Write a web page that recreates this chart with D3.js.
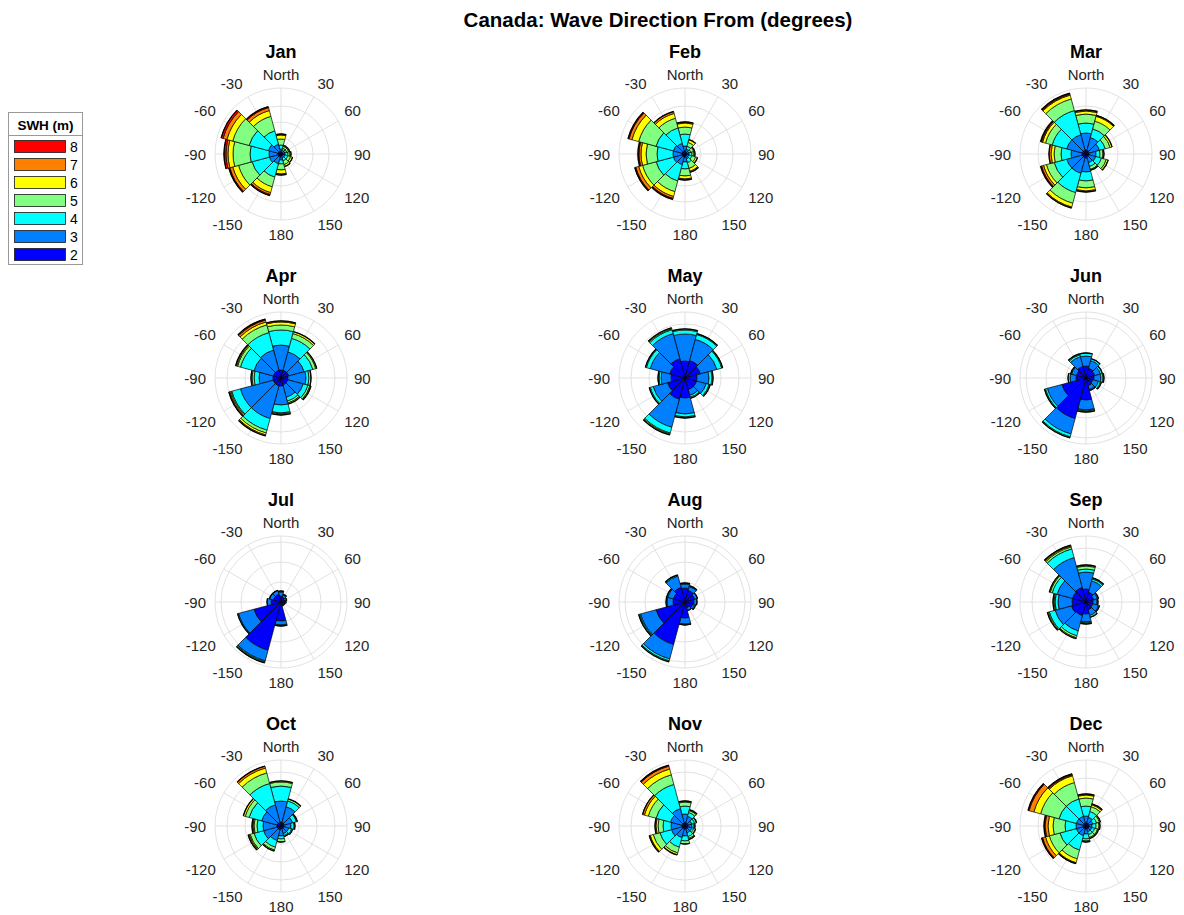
<!DOCTYPE html>
<html>
<head>
<meta charset="utf-8">
<script src="https://cdn.jsdelivr.net/npm/d3@7"></script>
<style>
  body { margin: 0; background: #ffffff; }
  svg { display: block; font-family: "Liberation Sans", Arial, Helvetica, sans-serif; }
</style>
</head>
<body>
<svg id="chart" width="1184" height="915"></svg>
<script>
// ---- Data -------------------------------------------------------------
const chartTitle = "Canada: Wave Direction From (degrees)";
const months = ["Jan", "Feb", "Mar", "Apr", "May", "Jun", "Jul", "Aug", "Sep", "Oct", "Nov", "Dec"];

// Direction bins (degrees clockwise from North), 30 degrees wide
const directions = [0, 30, 60, 90, 120, 150, 180, 210, 240, 270, 300, 330];
const directionLabels = ["North", "30", "60", "90", "120", "150", "180", "-150", "-120", "-90", "-60", "-30"];

// Significant wave height classes (m) and their colours
const swhClasses = ["2", "3", "4", "5", "6", "7", "8"];
const swhColors = ["#0000ff", "#0080ff", "#00ffff", "#80ff80", "#ffff00", "#ff8000", "#ff0000"];

// Radial axis: frequency (%) limit and ring positions per month
const radialMax = 33;
const radialTicks = [
  [8, 16, 24], [8, 16, 24], [8, 16, 24],
  [9, 18, 27], [9, 18, 27], [10, 20, 30],
  [10, 20, 30], [10, 20, 30], [9, 18, 27],
  [9, 18, 27], [9, 18, 27], [8, 16, 24]
];

// Cumulative frequency (%) per direction bin, by SWH class <=2, <=3, ... <=8
const jan = [
  [1, 2.5, 4.5, 7.5, 9.5, 10, 10],
  [1, 2, 3, 4, 4.5, 4.5, 4.5],
  [1, 2, 3, 4, 4.5, 4.5, 4.5],
  [1, 2, 3.5, 4.5, 5, 5, 5],
  [1, 2, 3.5, 5, 6, 6, 6],
  [1, 2, 3.5, 5.5, 6.5, 6.5, 6.5],
  [1, 3, 5, 8, 10, 10.5, 10.5],
  [1.5, 5, 12, 17, 20, 21, 21.5],
  [1.5, 6, 15, 22, 25, 26.5, 27],
  [1.5, 6, 15.5, 24, 26.5, 27.5, 28.5],
  [1.5, 6.5, 16.5, 25, 28, 30, 31],
  [1.5, 5, 12, 19.5, 22.5, 24, 24.5]
];
const feb = [
  [1.5, 4, 10, 13.5, 15.5, 16, 16],
  [1, 2.5, 4, 6, 7.5, 7.5, 7.5],
  [1, 2, 3, 4.5, 5, 5, 5],
  [1, 2, 3.5, 4.5, 5, 5, 5],
  [1, 2, 3.5, 5.5, 6.5, 6.5, 6.5],
  [1, 2.5, 4.5, 7.5, 9, 9.5, 9.5],
  [1.5, 4, 7.5, 11, 12.5, 13, 13],
  [1.5, 5.5, 14, 19.5, 22, 23, 23.5],
  [1.5, 6, 15, 22, 24, 25.5, 26],
  [1.5, 6, 14, 19.5, 22, 23, 23.5],
  [1.5, 6, 15, 24, 27.5, 29, 29.5],
  [1.5, 5.5, 13.5, 18.5, 21, 22, 22]
];
const mar = [
  [2, 10.5, 15.5, 20, 21.5, 22, 22],
  [2, 8.5, 13, 17, 19.5, 20, 20],
  [1.5, 7, 10, 12.5, 13.5, 13.5, 13.5],
  [1.5, 5, 7, 8.5, 9, 9, 9],
  [1.5, 5, 8, 10.5, 11.5, 11.5, 11.5],
  [1.5, 4.5, 6.5, 8, 8.5, 8.5, 8.5],
  [2, 9, 13.5, 17, 18.5, 19, 19],
  [2, 10, 20, 25.5, 27.5, 28, 28],
  [2, 10, 16.5, 20.5, 22, 23, 23.5],
  [2, 7.5, 12.5, 16, 17.5, 18.5, 18.5],
  [2, 10, 17.5, 21, 22.5, 23, 23.5],
  [2, 10, 22.5, 28.5, 30.5, 31, 31.5]
];
const apr = [
  [4, 16.5, 24, 26.5, 28, 28.5, 28.5],
  [4, 13.5, 20.5, 23, 24, 24, 24],
  [4, 12, 16.5, 18, 18.5, 18.5, 18.5],
  [3.5, 12.5, 14, 15, 15, 15, 15],
  [3.5, 11.5, 14, 15, 15.5, 15.5, 15.5],
  [3.5, 10, 12, 13, 13.5, 13.5, 13.5],
  [4, 13.5, 17.5, 18, 18.5, 18.5, 18.5],
  [4, 21, 27, 28.5, 29.5, 30, 30],
  [4, 21, 25.5, 26, 26.5, 27, 27],
  [4, 11, 13.5, 14.5, 15, 15, 15],
  [4, 14, 21, 22.5, 23, 23.5, 23.5],
  [4, 14.5, 23.5, 27.5, 29, 30, 30.5]
];
const may = [
  [8.5, 22, 24, 24.5, 24.5, 24.5, 24.5],
  [9, 20, 22.5, 23, 23, 23, 23],
  [8, 16.5, 19, 19.5, 19.5, 19.5, 19.5],
  [6, 12, 13.5, 14, 14, 14, 14],
  [6, 11, 12.5, 13, 13, 13, 13],
  [6, 9, 10, 10.5, 10.5, 10.5, 10.5],
  [10, 18, 19.5, 20, 20, 20, 20],
  [11, 25.5, 28.5, 29, 29.5, 29.5, 29.5],
  [9, 16.5, 18, 18.5, 18.5, 18.5, 18.5],
  [7, 12, 13, 13.5, 13.5, 13.5, 13.5],
  [8, 18, 20, 20.5, 20.5, 20.5, 20.5],
  [10, 23, 25, 25.5, 26, 26, 26]
];
const jun = [
  [6, 11, 12.5, 12.5, 12.5, 12.5, 12.5],
  [5, 9, 10, 10, 10, 10, 10],
  [4.5, 7.5, 8.5, 8.5, 8.5, 8.5, 8.5],
  [4, 7.5, 8.5, 9, 9, 9, 9],
  [3.5, 6.5, 7.5, 8, 8, 8, 8],
  [4, 6, 6.5, 6.5, 6.5, 6.5, 6.5],
  [11, 16, 16.5, 17, 17, 17, 17],
  [21, 29, 30.5, 31, 31, 31, 31],
  [12.5, 20, 21, 21.5, 21.5, 21.5, 21.5],
  [5, 8, 9, 9, 9, 9, 9],
  [5, 7.5, 8, 8, 8, 8, 8],
  [6, 11, 12, 12.5, 12.5, 12.5, 12.5]
];
const jul = [
  [3, 5, 5.5, 5.5, 5.5, 5.5, 5.5],
  [2.5, 3.5, 4, 4, 4, 4, 4],
  [2, 3, 3, 3, 3, 3, 3],
  [2, 2.5, 2.5, 2.5, 2.5, 2.5, 2.5],
  [1.5, 2, 2, 2, 2, 2, 2],
  [1.5, 2, 2, 2, 2, 2, 2],
  [9.5, 11.5, 12, 12, 12, 12, 12],
  [25, 30.5, 31, 31.5, 31.5, 31.5, 31.5],
  [14, 22, 22.5, 22.5, 22.5, 22.5, 22.5],
  [5, 7, 7, 7, 7, 7, 7],
  [4, 6, 6, 6, 6, 6, 6],
  [4, 6, 6, 6, 6, 6, 6]
];
const aug = [
  [7, 9, 9.5, 9.5, 9.5, 9.5, 9.5],
  [6, 8, 8.5, 8.5, 8.5, 8.5, 8.5],
  [5, 6.5, 6.5, 6.5, 6.5, 6.5, 6.5],
  [4.5, 6, 6, 6, 6, 6, 6],
  [4, 5, 5.5, 5.5, 5.5, 5.5, 5.5],
  [3, 4.5, 4.5, 4.5, 4.5, 4.5, 4.5],
  [8, 11, 11.5, 11.5, 11.5, 11.5, 11.5],
  [22, 29.5, 30.5, 31, 31, 31, 31],
  [15, 23, 23.5, 24, 24, 24, 24],
  [6, 9, 9.5, 9.5, 9.5, 9.5, 9.5],
  [6, 9, 9.5, 9.5, 9.5, 9.5, 9.5],
  [7.5, 13.5, 14, 14, 14, 14, 14]
];
const sep = [
  [6.5, 15, 16.5, 18, 18.5, 18.5, 18.5],
  [5, 11, 12, 12.5, 12.5, 12.5, 12.5],
  [4, 6, 6.5, 6.5, 6.5, 6.5, 6.5],
  [3.5, 5.5, 6, 6, 6, 6, 6],
  [3.5, 6.5, 7, 7, 7, 7, 7],
  [4, 7, 8, 8, 8, 8, 8],
  [6, 10, 10.5, 11, 11, 11, 11],
  [7, 15, 17.5, 18.5, 19, 19, 19],
  [7.5, 16, 19, 19.5, 20, 20, 20],
  [7, 14, 15.5, 16, 16.5, 16.5, 16.5],
  [7, 15, 17.5, 18.5, 19, 19, 19],
  [7.5, 23, 27.5, 28.5, 29, 29.5, 29.5]
];
const oct = [
  [2, 12.5, 20, 22, 22.5, 22.5, 22.5],
  [2, 10, 13, 14, 14, 14, 14],
  [1.5, 6, 8, 8.5, 8.5, 8.5, 8.5],
  [1.5, 5, 6.5, 7, 7, 7, 7],
  [1.5, 4, 5.5, 6, 6, 6, 6],
  [1.5, 4, 5, 5.5, 5.5, 5.5, 5.5],
  [1.5, 5, 6.5, 8, 8, 8, 8],
  [2, 7.5, 11, 12.5, 13, 13, 13],
  [2, 9, 14, 16, 16.5, 17, 17],
  [2, 9, 12, 13.5, 14, 14.5, 14.5],
  [2, 10, 16.5, 18.5, 19.5, 19.5, 19.5],
  [2, 11, 22, 27.5, 30, 31, 31]
];
const nov = [
  [1.5, 6, 10, 12, 12.5, 12.5, 12.5],
  [1.5, 5, 7, 8, 8.5, 8.5, 8.5],
  [1.5, 3.5, 5, 6, 6, 6, 6],
  [1.5, 3.5, 4.5, 5, 5, 5, 5],
  [1.5, 3.5, 4.5, 5.5, 5.5, 5.5, 5.5],
  [1.5, 3.5, 5.5, 6.5, 7, 7, 7],
  [1.5, 5, 7.5, 9, 9, 9, 9],
  [1.5, 6, 11, 14, 15, 15, 15],
  [1.5, 7, 13, 16.5, 18, 18.5, 18.5],
  [1.5, 7, 11, 13.5, 14.5, 15, 15],
  [1.5, 7.5, 15, 19, 21, 22, 22],
  [1.5, 9, 21.5, 26.5, 29.5, 31, 31.5]
];
const dec = [
  [1.5, 5, 10, 14, 15.5, 16, 16],
  [1.5, 4.5, 7.5, 10, 11, 11.5, 11.5],
  [1.5, 3.5, 5.5, 7, 7.5, 7.5, 7.5],
  [1.5, 3, 5, 6.5, 7, 7, 7],
  [1.5, 3, 4.5, 6, 6.5, 6.5, 6.5],
  [1.5, 3, 4.5, 6, 6.5, 6.5, 6.5],
  [1.5, 4, 6.5, 7.5, 8, 8, 8],
  [1.5, 5, 12.5, 17, 19, 19.5, 19.5],
  [1.5, 5, 13.5, 19, 21, 22.5, 23],
  [1.5, 5, 10.5, 16.5, 19, 20.5, 21],
  [1.5, 5, 14, 23.5, 27, 29.5, 30],
  [1.5, 5, 14, 22.5, 26, 26.5, 27]
];
const monthlyRoses = [jan, feb, mar, apr, may, jun, jul, aug, sep, oct, nov, dec];

// ---- Layout -----------------------------------------------------------
const svg = d3.select("#chart");
const columnCenters = [281, 685, 1086];
const rowCenters = [154, 378, 602, 826];
const plotRadius = 66;
const binWidth = 30;
const gridColor = "#dedede";
const tickColor = "#262626";

const r = d3.scaleLinear().domain([0, radialMax]).range([0, plotRadius]);
const toRad = d3.scaleLinear().domain([0, 360]).range([0, 2 * Math.PI]);
const arc = d3.arc();

svg.append("text")
  .attr("x", 658).attr("y", 19)
  .attr("text-anchor", "middle").attr("dominant-baseline", "central")
  .attr("font-size", "20.5px").attr("font-weight", "bold").attr("fill", "#000")
  .text(chartTitle);

months.forEach((month, m) => {
  const cx = columnCenters[m % 3];
  const cy = rowCenters[Math.floor(m / 3)];
  const g = svg.append("g").attr("transform", `translate(${cx},${cy})`);

  // grid: rings and 30-degree spokes
  const grid = g.append("g");
  radialTicks[m].concat([radialMax]).forEach(t => {
    grid.append("circle").attr("r", r(t))
      .attr("fill", "none").attr("stroke", gridColor).attr("stroke-width", 0.9);
  });
  directions.forEach(d => {
    const a = toRad(d);
    grid.append("line")
      .attr("x1", 0).attr("y1", 0)
      .attr("x2", r(radialMax) * Math.sin(a)).attr("y2", -r(radialMax) * Math.cos(a))
      .attr("stroke", gridColor).attr("stroke-width", 0.9);
  });

  // stacked wedges, one annular segment per SWH class
  const rose = monthlyRoses[m];
  const bars = g.append("g");
  rose.forEach((cum, i) => {
    const d = directions[i];
    cum.forEach((v, k) => {
      const inner = k === 0 ? 0 : cum[k - 1];
      if (v <= inner) return;
      bars.append("path")
        .attr("d", arc({
          innerRadius: r(inner), outerRadius: r(v),
          startAngle: toRad(d - binWidth / 2), endAngle: toRad(d + binWidth / 2)
        }))
        .attr("fill", swhColors[k])
        .attr("stroke", "#000").attr("stroke-width", 0.7)
        .attr("stroke-linejoin", "round");
    });
    // outline of the whole bar
    bars.append("path")
      .attr("d", arc({
        innerRadius: r(cum[cum.length - 1]), outerRadius: r(cum[cum.length - 1]),
        startAngle: toRad(d - binWidth / 2), endAngle: toRad(d + binWidth / 2)
      }))
      .attr("fill", "none").attr("stroke", "#000").attr("stroke-width", 1.3);
  });

  // direction labels around the rim, aligned away from the circle
  const labelGap = 73;
  directions.forEach((d, i) => {
    const a = toRad(d);
    const sx = Math.sin(a), sy = -Math.cos(a);
    const t = g.append("text")
      .attr("text-anchor", "middle").attr("dominant-baseline", "central")
      .attr("font-size", "15px").attr("fill", tickColor)
      .text(directionLabels[i]);
    const bb = t.node().getBBox();
    const halfW = bb.width / 2, halfH = bb.height / 2 - 1.5;
    const ox = sx > 0.01 ? halfW : (sx < -0.01 ? -halfW : 0);
    const oy = sy < -0.01 ? -halfH : (sy > 0.01 ? halfH : 0);
    const ax = labelGap * sx, ay = labelGap * sy;
    t.attr("x", ax + ox + (sx < -0.01 ? -2 : 0)).attr("y", ay + oy);
  });

  g.append("text")
    .attr("x", 0).attr("y", -102)
    .attr("text-anchor", "middle").attr("dominant-baseline", "central")
    .attr("font-size", "18px").attr("font-weight", "bold").attr("fill", "#000")
    .text(month);
});

// ---- Legend -----------------------------------------------------------
const legend = svg.append("g");
legend.append("rect")
  .attr("x", 8.5).attr("y", 112.5).attr("width", 74).attr("height", 152)
  .attr("fill", "#fff").attr("stroke", "#999").attr("stroke-width", 1);
legend.append("line")
  .attr("x1", 8.5).attr("x2", 82.5).attr("y1", 135.5).attr("y2", 135.5)
  .attr("stroke", "#999").attr("stroke-width", 1);
legend.append("text")
  .attr("x", 45.5).attr("y", 125)
  .attr("text-anchor", "middle").attr("dominant-baseline", "central")
  .attr("font-size", "13.5px").attr("font-weight", "bold").attr("fill", "#000")
  .text("SWH (m)");
const legendOrder = d3.range(swhClasses.length).reverse();
const legendY = d3.scalePoint().domain(legendOrder).range([146.5, 254.5]);
legendOrder.forEach(k => {
  legend.append("rect")
    .attr("x", 14.5).attr("y", legendY(k) - 6).attr("width", 51).attr("height", 12)
    .attr("fill", swhColors[k]).attr("stroke", "#1a1a1a").attr("stroke-width", 0.8);
  legend.append("text")
    .attr("x", 70).attr("y", legendY(k) + 0.5)
    .attr("dominant-baseline", "central")
    .attr("font-size", "14px").attr("fill", "#000")
    .text(swhClasses[k]);
});
</script>
</body>
</html>
